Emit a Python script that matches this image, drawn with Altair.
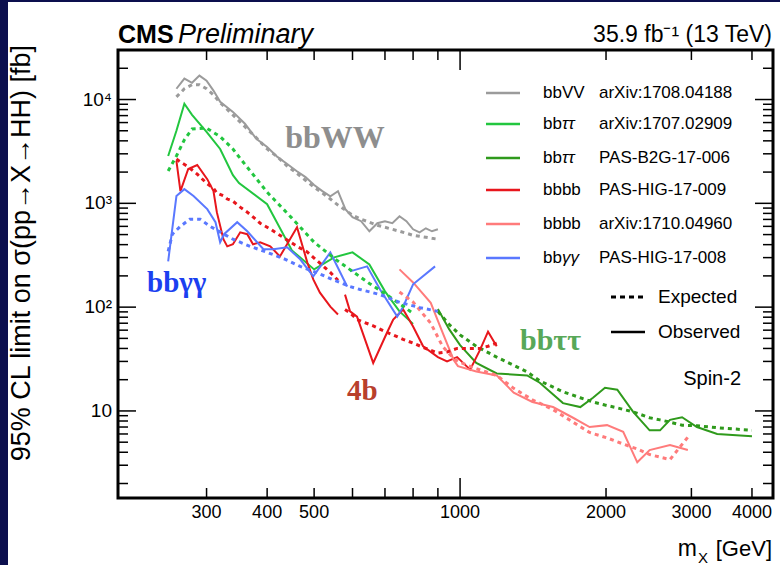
import altair as alt
import pandas as pd

W, H = 655, 448
PL, PT = 118, 50
SANS = "Liberation Sans"
SERIF = "Liberation Serif"

# ---------------- data ----------------
bbvv_mass = [260, 270, 280, 290, 300, 310, 320, 340, 360, 380, 400, 420, 440, 460, 480, 500, 520,
             540, 560, 580, 600, 625, 650, 675, 700, 725, 750, 775, 800, 825, 850, 875, 900]
bbvv_obs = [12700, 15900, 14500, 17000, 15200, 12200, 9500, 7600, 5840, 4180, 3490, 2800, 2390, 2050,
            1790, 1500, 1310, 1170, 1310, 880, 735, 673, 538, 643, 673, 643, 752, 673, 562, 526, 575, 538, 562]
bbvv_exp = [10600, 12700, 13900, 13900, 12700, 11100, 9310, 7120, 5460, 4280, 3340, 2800, 2290, 1960,
            1670, 1430, 1260, 1100, 962, 860, 769, 703, 658, 615, 588, 562, 538, 515, 492, 482, 471, 460, 451]

tt_mass = [250, 260, 270, 280, 300, 320, 340, 350, 400, 450, 500, 550, 600, 650, 700, 750, 800]
tt_obs = [2860, 5000, 9100, 7130, 4890, 3340, 1870, 1570, 982, 352, 231, 302, 337, 258, 142, 91, 69]
tt_exp = [2050, 2860, 4100, 5200, 5300, 4400, 3340, 2800, 1280, 720, 422, 295, 221, 169, 135, 108, 87]

b2g_mass = [900, 950, 1000, 1080, 1190, 1375, 1460, 1630, 1770, 1880, 1990, 2110, 2275, 2460, 2585,
            2710, 2870, 3080, 3390, 4000]
b2g_obs = [96, 61, 43, 29, 23, 22, 18.7, 11.9, 10.9, 13.4, 16.7, 16, 9.8, 6.5, 6.5, 8.2, 8.7, 7.0, 6.0, 5.7]
b2g_exp = [91, 68, 54, 42, 33, 23.8, 19.5, 15.3, 13.4, 12.2, 11.4, 10.7, 9.8, 8.6, 8.2, 7.8, 7.3, 7.2, 6.9, 6.5]

bbbb_lo_mass = [260, 265, 275, 287, 301, 310, 315, 325, 331, 340, 352, 364, 374, 387, 406, 425, 461,
                484, 498, 514, 540, 560]
bbbb_lo_obs = [2560, 1310, 2140, 2340, 1710, 1310, 822, 451, 385, 403, 526, 504, 403, 422, 385, 308, 589,
               270, 185, 138, 101, 85]
bbbb_lo_exp = [2670, 2500, 2250, 1910, 1540, 1400, 1256, 1180, 1100, 1050, 920, 822, 740, 643, 565, 492,
               385, 340, 302, 265, 216, 181]

bbbb_hi_mass = [579, 593, 613, 662, 707, 728, 763, 800, 839, 900, 940, 986, 1049, 1100, 1142, 1190]
bbbb_hi_obs = [132, 91, 81, 29, 57, 76, 95, 65, 42, 33, 30, 33, 25, 39, 58, 42]
bbbb_hi_exp = [95, 88, 76, 66, 57, 54, 49, 45, 41, 36, 37, 40, 40, 40, 42, 45]

boost_mass = [750, 800, 870, 920, 970, 990, 1080, 1190, 1290, 1410, 1555, 1710, 1850, 2010, 2170,
              2320, 2460, 2710, 2950]
boost_obs = [231, 173, 110, 57, 31, 27, 24, 22, 15, 12.2, 10.9, 8.6, 7.0, 7.3, 6.3, 3.2, 4.2, 4.7, 4.2]
boost_exp = [140, 112, 70, 42, 32, 30, 25.5, 22, 16.5, 12.8, 10.3, 7.8, 6.2, 5.5, 4.8, 4.3, 3.8, 3.4, 5.6]

gg1_mass = [250, 260, 270, 282, 301, 313, 320, 326, 347, 364, 393, 412, 440, 468, 498, 540, 585]
gg1_obs = [276, 1175, 1370, 1175, 880, 658, 422, 504, 658, 538, 361, 361, 377, 289, 198, 337, 158]
gg2_mass = [593, 643, 684, 742, 763, 800, 888]
gg2_obs = [221, 247, 148, 81, 101, 166, 247]
gg_exp_mass = [250, 255, 265, 277, 291, 305, 326, 340, 369, 400, 436, 468, 505, 545, 593, 622, 684,
               752, 827, 900]
gg_exp = [345, 504, 601, 703, 703, 601, 504, 451, 385, 337, 289, 247, 216, 185, 158, 148, 132, 111, 99, 91]

series_names = ["bbVV", "bbtt", "b2g", "bbbb", "bbbb_boost", "bbgg"]
series_colors = ["#9b9b9b", "#22c63f", "#2f9a1c", "#e8161c", "#ff7b7b", "#5a78ff"]

legend_names = ["bbVV", "bb", "bb", "bbbb", "bbbb", "bb"]
legend_greek = ["", "ττ", "ττ", "", "", "γγ"]
legend_refs = ["arXiv:1708.04188", "arXiv:1707.02909", "PAS-B2G-17-006", "PAS-HIG-17-009",
               "arXiv:1710.04960", "PAS-HIG-17-008"]

x_tick_values = [300, 400, 500, 1000, 2000, 3000, 4000]
x_tick_text = ["300", "400", "500", "1000", "2000", "3000", "4000"]
y_tick_values = [10, 100, 1000, 10000]
y_tick_text = ["10", "10²", "10³", "10⁴"]

lines = [
    ("bbVV", "Observed", 1, bbvv_mass, bbvv_obs),
    ("bbVV", "Expected", 1, bbvv_mass, bbvv_exp),
    ("bbtt", "Observed", 1, tt_mass, tt_obs),
    ("bbtt", "Expected", 1, tt_mass, tt_exp),
    ("b2g", "Observed", 1, b2g_mass, b2g_obs),
    ("b2g", "Expected", 1, b2g_mass, b2g_exp),
    ("bbbb", "Observed", 1, bbbb_lo_mass, bbbb_lo_obs),
    ("bbbb", "Expected", 1, bbbb_lo_mass, bbbb_lo_exp),
    ("bbbb", "Observed", 2, bbbb_hi_mass, bbbb_hi_obs),
    ("bbbb", "Expected", 2, bbbb_hi_mass, bbbb_hi_exp),
    ("bbbb_boost", "Observed", 1, boost_mass, boost_obs),
    ("bbbb_boost", "Expected", 1, boost_mass, boost_exp),
    ("bbgg", "Observed", 1, gg1_mass, gg1_obs),
    ("bbgg", "Observed", 2, gg2_mass, gg2_obs),
    ("bbgg", "Expected", 1, gg_exp_mass, gg_exp),
]
rows = []
for s, kind, seg, ms, vs in lines:
    for m, v in zip(ms, vs):
        rows.append(dict(series=s, kind=kind, seg=f"{s}_{kind}_{seg}", mass=m, limit=v))
df = pd.DataFrame(rows)

# ---------------- scales ----------------
xscale = alt.Scale(type="log", domain=[197, 4420], nice=False)
yscale = alt.Scale(type="log", domain=[1.45, 30000], nice=False)
cscale = alt.Scale(domain=series_names, range=series_colors)

base = alt.Chart(df)
obs_layer = base.transform_filter(alt.datum.kind == "Observed").mark_line(strokeWidth=2).encode(
    x=alt.X("mass:Q", scale=xscale, axis=None),
    y=alt.Y("limit:Q", scale=yscale, axis=None),
    color=alt.Color("series:N", scale=cscale, legend=None),
    detail="seg:N",
)
exp_layer = base.transform_filter(alt.datum.kind == "Expected").mark_line(
    strokeWidth=3, strokeDash=[4, 4]).encode(
    x=alt.X("mass:Q", scale=xscale, axis=None),
    y=alt.Y("limit:Q", scale=yscale, axis=None),
    color=alt.Color("series:N", scale=cscale, legend=None),
    detail="seg:N",
)

# axis labels drawn through the scales
xlab = alt.Chart(pd.DataFrame({"v": x_tick_values, "t": x_tick_text})).mark_text(
    font=SANS, fontSize=18, color="black", baseline="middle", align="center").encode(
    x=alt.X("v:Q", scale=xscale, axis=None), y=alt.value(H + 15), text="t:N")
ylab = alt.Chart(pd.DataFrame({"v": y_tick_values, "t": y_tick_text})).mark_text(
    font=SANS, fontSize=19, color="black", baseline="middle", align="right").encode(
    y=alt.Y("v:Q", scale=yscale, axis=None), x=alt.value(-6), text="t:N")

# ---------------- ticks (inward, ROOT style) ----------------
y_major = [10, 100, 1000, 10000]
y_minor = [k * d for d in [1, 10, 100, 1000, 10000] for k in range(2, 10) if 1.45 <= k * d <= 30000]
x_major = [1000]
x_minor = [300, 400, 500, 600, 700, 800, 900, 2000, 3000, 4000]


def yticks(vals, length):
    d = pd.DataFrame({"v": vals})
    left = alt.Chart(d).mark_rule(color="black", strokeWidth=1.5).encode(
        y=alt.Y("v:Q", scale=yscale, axis=None), x=alt.value(0), x2=alt.value(length))
    right = alt.Chart(d).mark_rule(color="black", strokeWidth=1.5).encode(
        y=alt.Y("v:Q", scale=yscale, axis=None), x=alt.value(W - length), x2=alt.value(W))
    return [left, right]


def xticks(vals, length):
    d = pd.DataFrame({"v": vals})
    bot = alt.Chart(d).mark_rule(color="black", strokeWidth=1.5).encode(
        x=alt.X("v:Q", scale=xscale, axis=None), y=alt.value(H), y2=alt.value(H - length))
    top = alt.Chart(d).mark_rule(color="black", strokeWidth=1.5).encode(
        x=alt.X("v:Q", scale=xscale, axis=None), y=alt.value(0), y2=alt.value(length))
    return [bot, top]


# ---------------- decorations ----------------
one = pd.DataFrame({"k": [0]})


def txt(s, x, y, size, color="black", font=SANS, weight="normal", style="normal",
        align="left", baseline="alphabetic", angle=None):
    kw = dict(text=s, fontSize=size, color=color, font=font, fontWeight=weight, fontStyle=style,
              align=align, baseline=baseline)
    if angle is not None:
        kw["angle"] = angle
    return alt.Chart(one).mark_text(**kw).encode(x=alt.value(x - PL), y=alt.value(y - PT))


def hline(x1, x2, y, color, width, dash=None):
    kw = dict(color=color, strokeWidth=width)
    if dash:
        kw["strokeDash"] = dash
    return alt.Chart(one).mark_rule(**kw).encode(
        x=alt.value(x1 - PL), x2=alt.value(x2 - PL), y=alt.value(y - PT))


def rect(x1, x2, y1, y2, color):
    return alt.Chart(one).mark_rect(color=color).encode(
        x=alt.value(x1 - PL), x2=alt.value(x2 - PL), y=alt.value(y1 - PT), y2=alt.value(y2 - PT))


deco = []
deco.append(rect(0, 8, 0, 565, "#0c0f4e"))
deco.append(rect(0, 780, 0, 2, "#0c0f4e"))

# titles
deco.append(txt("CMS", 118, 43, 25, weight="bold"))
deco.append(txt("Preliminary", 178, 43, 27, style="italic"))
deco.append(txt("35.9 fb⁻¹ (13 TeV)", 772, 42, 23, align="right"))
deco.append(txt("95% CL limit on σ(pp→X→HH) [fb]", 22, 45, 27, align="right",
                baseline="middle", angle=270))
deco.append(txt("m", 697, 556, 23, align="right"))
deco.append(txt("X", 698, 563, 15))
deco.append(txt("[GeV]", 772, 556, 22, align="right"))

# annotations
deco.append(txt("bbWW", 335, 148, 32, color="#8e8e8e", font=SERIF, weight="bold", align="center"))
deco.append(txt("bbγγ", 147, 292, 29, color="#1b3ff0", font=SERIF, weight="bold"))
deco.append(txt("4b", 347, 400, 29, color="#b8402c", font=SERIF, weight="bold"))
deco.append(txt("bbττ", 520, 350, 30, color="#58a858", font=SERIF, weight="bold"))
deco.append(txt("Spin-2", 741, 385, 20, align="right"))

# legend
leg_y = [93, 124, 158, 190, 224, 258]
for i, yy in enumerate(leg_y):
    deco.append(hline(486, 520, yy, series_colors[i], 2.5))
    deco.append(txt(legend_names[i], 543, yy, 17, baseline="middle"))
    if legend_greek[i]:
        deco.append(txt(legend_greek[i], 562, yy, 17, style="italic", baseline="middle"))
    deco.append(txt(legend_refs[i], 599, yy, 17, baseline="middle"))
deco.append(hline(611, 645, 297, "black", 3, dash=[5, 4]))
deco.append(txt("Expected", 658, 297, 19, baseline="middle"))
deco.append(hline(611, 645, 332, "black", 2.5))
deco.append(txt("Observed", 658, 332, 19, baseline="middle"))

layers = [obs_layer, exp_layer, xlab, ylab] + yticks(y_major, 18) + yticks(y_minor, 10) \
    + xticks(x_major, 20) + xticks(x_minor, 10) + deco

chart = alt.layer(*layers).properties(
    width=W, height=H,
    autosize=alt.AutoSizeParams(type="none"),
    padding={"left": PL, "top": PT, "right": 780 - PL - W, "bottom": 565 - PT - H},
    background="white",
).configure_view(stroke="black", strokeWidth=3)

chart.save("out.html", embed_options={"renderer": "svg", "actions": False})
